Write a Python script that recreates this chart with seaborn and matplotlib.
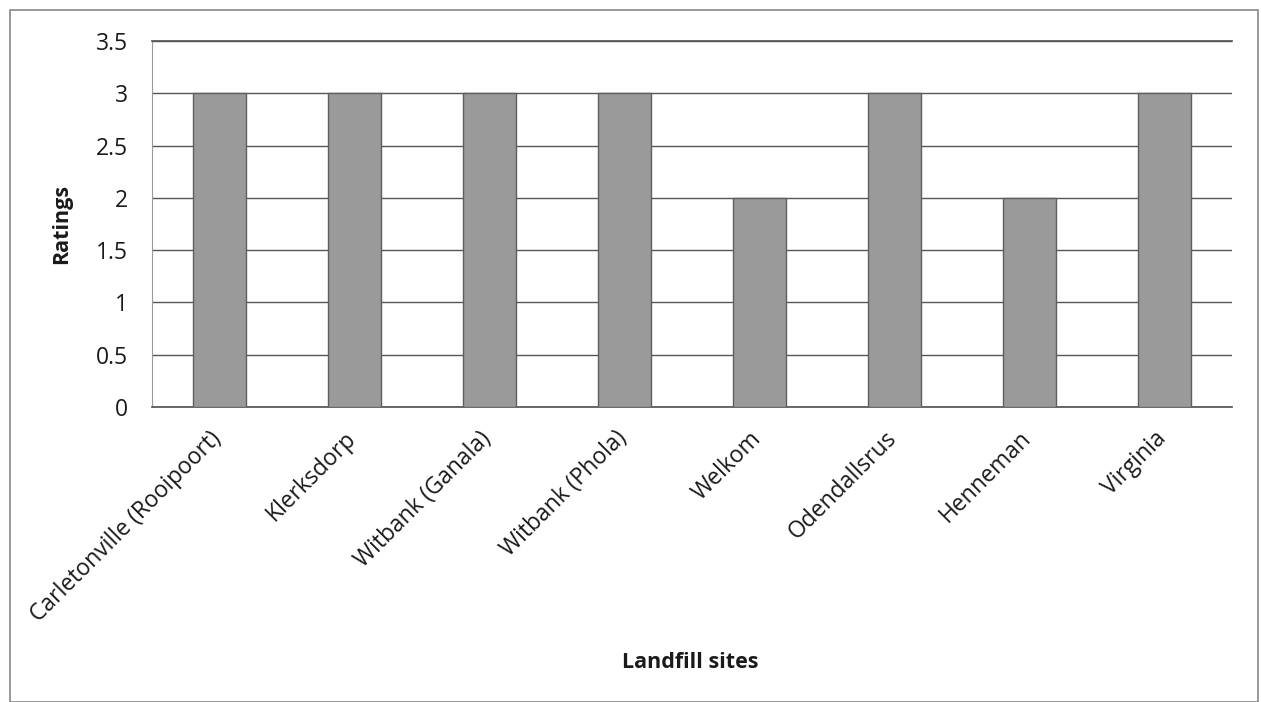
import matplotlib
matplotlib.use("Agg")
import matplotlib.pyplot as plt
import matplotlib.transforms as mtransforms
import seaborn as sns
import pandas as pd
from matplotlib.patches import Rectangle

sites = ["Carletonville (Rooipoort)", "Klerksdorp", "Witbank (Ganala)", "Witbank (Phola)",
         "Welkom", "Odendallsrus", "Henneman", "Virginia"]
ratings = [3, 3, 3, 3, 2, 3, 2, 3]
y_ticks = [0, 0.5, 1, 1.5, 2, 2.5, 3, 3.5]
y_tick_labels = ["0", "0.5", "1", "1.5", "2", "2.5", "3", "3.5"]

sns.set_theme(style="white")
plt.rcParams["font.family"] = ["Open Sans", "DejaVu Sans"]

df = pd.DataFrame({"site": sites, "rating": ratings})

fig = plt.figure(figsize=(12.61, 7.02), dpi=100)
ax = fig.add_axes([152 / 1261, 1 - 407 / 702, 1080 / 1261, 366 / 702])

sns.barplot(data=df, x="site", y="rating", color="#9a9a9a", width=0.39,
            edgecolor="#5e5e5e", linewidth=1.0, ax=ax, saturation=1, zorder=3)

ax.set_ylim(0, 3.5)
ax.set_xlim(-0.5, len(sites) - 0.5)
ax.set_yticks(y_ticks)
ax.set_yticklabels(y_tick_labels, fontsize=16.5, color="#1a1a1a")
ax.yaxis.grid(True, color="#555555", linewidth=1.0, zorder=0)
ax.set_axisbelow(True)
ax.tick_params(axis="y", length=0, pad=17)
ax.tick_params(axis="x", length=0, pad=14)

# nudge the slanted site names a little to the left
shift = mtransforms.ScaledTranslation(-10 / 100, 0, fig.dpi_scale_trans)
for lbl in ax.get_xticklabels():
    lbl.set_rotation(45)
    lbl.set_ha("right")
    lbl.set_rotation_mode("anchor")
    lbl.set_fontsize(16.5)
    lbl.set_color("#1a1a1a")
    lbl.set_transform(lbl.get_transform() + shift)

for side in ["top", "bottom"]:
    ax.spines[side].set_visible(True)
    ax.spines[side].set_color("#555555")
ax.spines["left"].set_color("#999999")
ax.spines["left"].set_linewidth(0.8)
ax.spines["right"].set_visible(False)

ax.set_ylabel("Ratings", fontsize=15.5, fontweight="bold", color="#1a1a1a")
ax.yaxis.set_label_coords(-80 / 1080, 0.5)
ax.set_xlabel("")
fig.text(690 / 1261, 1 - 663 / 702, "Landfill sites", fontsize=15.5, fontweight="bold",
         color="#1a1a1a", ha="center", va="center")

# outer chart frame
fig.patches.append(Rectangle((10 / 1261, 0), 1248 / 1261, 1 - 10 / 702,
                             transform=fig.transFigure, fill=False,
                             edgecolor="#888888", linewidth=1.2))

fig.savefig("out.png", dpi=100, facecolor="white")
